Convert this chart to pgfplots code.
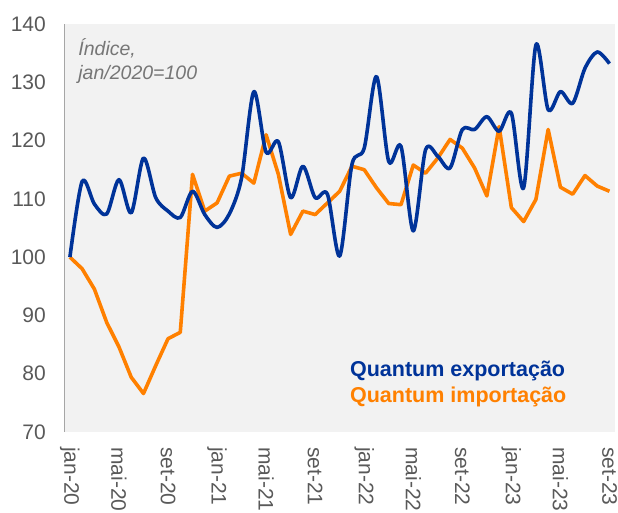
\documentclass[border=0pt]{standalone}
\usepackage{pgfplots}
\pgfplotsset{compat=1.18}
\usepackage{fontspec}
\setmainfont{Liberation Sans}
\definecolor{expblue}{RGB}{0,51,153}
\definecolor{imporange}{RGB}{255,128,0}
\definecolor{bggray}{RGB}{242,242,242}
\definecolor{txtgray}{RGB}{89,89,89}
\definecolor{notegray}{RGB}{118,118,118}
\begin{document}
\begin{tikzpicture}
\useasboundingbox (0,0) rectangle (618pt,512pt);
\begin{axis}[
  at={(65pt,80pt)}, anchor=south west,
  width=550pt, height=408pt, scale only axis,
  xmin=-0.4, xmax=44.45, ymin=70, ymax=140,
  ytick={70,80,...,140},
  xtick={0,4,...,44},
  xticklabels={jan-20,mai-20,set-20,jan-21,mai-21,set-21,jan-22,mai-22,set-22,jan-23,mai-23,set-23},
  axis background/.style={fill=bggray},
  axis line style={draw=none},
  major tick length=0pt,
  /pgf/number format/assume math mode=true,
  yticklabel style={font=\fontsize{21}{24}\selectfont, text=txtgray, anchor=east, inner sep=0pt, xshift=-19pt},
  xticklabel style={font=\fontsize{21}{24}\selectfont, text=txtgray, rotate=-90, anchor=west, inner xsep=15pt, inner ysep=0pt},
  clip=false,
]
\draw[gray!70, line width=1pt] (rel axis cs:0,0) -- (rel axis cs:0,1);
\addplot[imporange, line width=3.6pt, line join=round] coordinates {
(0,100) (1,98) (2,94.5) (3,88.8) (4,84.6) (5,79.4) (6,76.6) (7,81.4) (8,86) (9,87.1)
(10,114.2) (11,107.9) (12,109.3) (13,113.9) (14,114.4) (15,112.7) (16,121) (17,114.2)
(18,103.9) (19,107.9) (20,107.3) (21,109.3) (22,111.3) (23,115.6) (24,115) (25,111.9)
(26,109.2) (27,109) (28,115.8) (29,114.4) (30,117) (31,120.2) (32,118.7) (33,115.3)
(34,110.5) (35,122.4) (36,108.5) (37,106.1) (38,109.9) (39,121.9) (40,112) (41,110.8)
(42,114) (43,112.2) (44,111.3)
};
\addplot[expblue, line width=3.6pt, smooth, tension=0.5, line join=round] coordinates {
(0,100) (1,113) (2,109.1) (3,107.4) (4,113.3) (5,107.6) (6,117) (7,110.2) (8,107.9)
(9,106.8) (10,111.3) (11,107.3) (12,105.1) (13,107.4) (14,113.6) (15,128.4) (16,118)
(17,119.8) (18,110.2) (19,115.6) (20,110.2) (21,110.8) (22,100.2) (23,115.9) (24,118.7)
(25,131) (26,116.4) (27,119) (28,104.5) (29,118.4) (30,117.3) (31,115.3) (32,121.9)
(33,121.9) (34,124.1) (35,121.6) (36,124.7) (37,111.9) (38,136.4) (39,125.3) (40,128.4)
(41,126.4) (42,132.4) (43,135.2) (44,133.2)
};
\node[anchor=north west, align=left, inner sep=0pt, text=notegray,
  font=\itshape\fontsize{19.5}{23.5}\selectfont] at (rel axis cs:0.024,0.964) {Índice,\\jan/2020=100};
\node[anchor=base west, inner sep=0pt, text=expblue, font=\bfseries\fontsize{21.5}{24}\selectfont]
  at (rel axis cs:0.518,0.135) {Quantum exportação};
\node[anchor=base west, inner sep=0pt, text=imporange, font=\bfseries\fontsize{21.5}{24}\selectfont]
  at (rel axis cs:0.518,0.0735) {Quantum importação};
\end{axis}
\end{tikzpicture}
\end{document}
